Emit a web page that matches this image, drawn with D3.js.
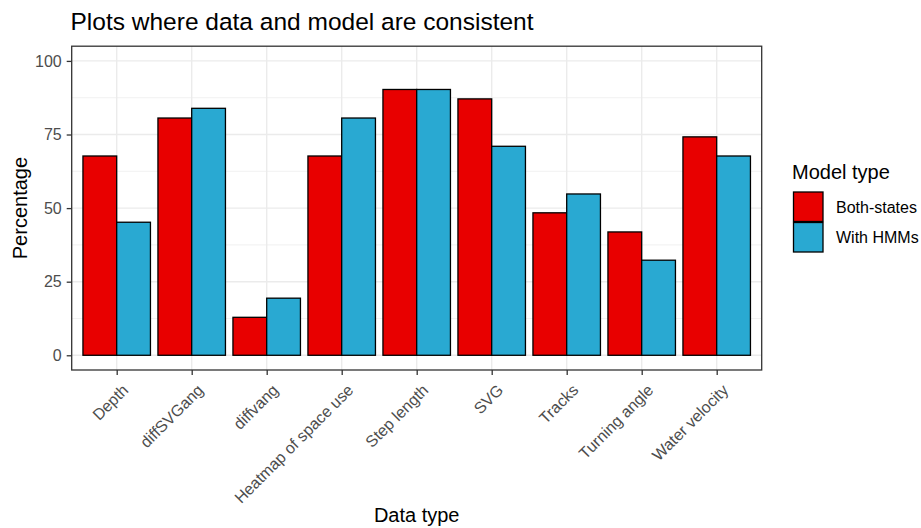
<!DOCTYPE html>
<html><head><meta charset="utf-8">
<script src="https://cdn.jsdelivr.net/npm/d3@7"></script>
<style>body{margin:0;background:#fff;} text{font-family:"Liberation Sans",Arial,sans-serif;}</style>
</head><body>
<svg id="c" width="921" height="528"></svg>
<script>
const categories = ["Depth","diffSVGang","diffvang","Heatmap of space use","Step length","SVG","Tracks","Turning angle","Water velocity"];
const seriesNames = ["Both-states","With HMMs"];
const bothStates = [67.7, 80.6, 12.9, 67.7, 90.3, 87.1, 48.4, 41.9, 74.2];
const withHMMs   = [45.2, 83.9, 19.4, 80.6, 90.3, 71.0, 54.8, 32.3, 67.7];
const yTicks = [0, 25, 50, 75, 100];
const yMinor = [12.5, 37.5, 62.5, 87.5];
const colors = ["#e80000", "#29a9d2"];

const svg = d3.select("#c");
const L = 71.7, R = 761.7, T = 46.2, B = 370;
const xp = d3.scalePoint().domain(categories).range([L + 0.6*75, R - 0.6*75]);
const y = d3.scaleLinear().domain([-5, 105]).range([B, T]);
const step = xp.step();
const barW = 0.45 * step;
const tickFont = "16px", titleFont = "20px";

const g = svg.append("g");
// grid
g.selectAll(".minor").data(yMinor).join("line")
  .attr("x1", L).attr("x2", R).attr("y1", d=>y(d)).attr("y2", d=>y(d))
  .attr("stroke", "#ebebeb").attr("stroke-width", 0.7);
g.selectAll(".major").data(yTicks).join("line")
  .attr("x1", L).attr("x2", R).attr("y1", d=>y(d)).attr("y2", d=>y(d))
  .attr("stroke", "#ebebeb").attr("stroke-width", 1.4);
g.selectAll(".vmajor").data(categories).join("line")
  .attr("x1", d=>xp(d)).attr("x2", d=>xp(d)).attr("y1", T).attr("y2", B)
  .attr("stroke", "#ebebeb").attr("stroke-width", 1.4);

// bars
const series = [bothStates, withHMMs];
series.forEach((vals, si) => {
  g.selectAll(".bar"+si).data(categories).join("rect")
    .attr("x", (d)=> xp(d) - barW + si*barW)
    .attr("width", barW)
    .attr("y", (d,i)=> y(vals[i]))
    .attr("height", (d,i)=> y(0) - y(vals[i]))
    .attr("fill", colors[si]).attr("stroke", "#000").attr("stroke-width", 1.3);
});

// panel border
g.append("rect").attr("x", L).attr("y", T).attr("width", R-L).attr("height", B-T)
  .attr("fill","none").attr("stroke","#333333").attr("stroke-width",1.3);

// y axis
const yAxis = d3.axisLeft(y).tickValues(yTicks).tickSize(5).tickPadding(5);
const ya = svg.append("g").attr("transform", `translate(${L},0)`).call(yAxis);
ya.select(".domain").remove();
ya.selectAll("line").attr("stroke","#333333").attr("stroke-width",1.3);
ya.selectAll("text").attr("fill","#4d4d4d").style("font-size",tickFont).style("font-family","Liberation Sans, Arial, sans-serif");

// x axis
const xAxis = d3.axisBottom(xp).tickSize(5).tickPadding(3);
const xa = svg.append("g").attr("transform", `translate(0,${B})`).call(xAxis);
xa.select(".domain").remove();
xa.selectAll("line").attr("stroke","#333333").attr("stroke-width",1.3);
xa.selectAll("text").attr("fill","#4d4d4d").style("font-size",tickFont)
  .style("font-family","Liberation Sans, Arial, sans-serif")
  .attr("text-anchor","end").attr("y",0).attr("dy","0.72em")
  .attr("transform","translate(4,13) rotate(-45)");

// titles
svg.append("text").attr("x", 70.5).attr("y", 30).text("Plots where data and model are consistent")
  .style("font-size","24.5px").attr("fill","#000");
svg.append("text").attr("transform", `translate(26.5,${(T+B)/2}) rotate(-90)`).attr("text-anchor","middle")
  .text("Percentage").style("font-size",titleFont).attr("fill","#000");
svg.append("text").attr("x", (L+R)/2).attr("y", 522).attr("text-anchor","middle")
  .text("Data type").style("font-size",titleFont).attr("fill","#000");

// legend
const lg = svg.append("g");
lg.append("text").attr("x", 792).attr("y", 178.5).text("Model type").style("font-size",titleFont).attr("fill","#000");
seriesNames.forEach((n, i) => {
  lg.append("rect").attr("x", 793.5).attr("y", 192 + i*30.5).attr("width", 29.5).attr("height", 29.5)
    .attr("fill", colors[i]).attr("stroke","#000").attr("stroke-width",1.3);
  lg.append("text").attr("x", 836).attr("y", 207 + i*30.5).attr("dy","0.35em").text(n)
    .style("font-size",tickFont).attr("fill","#000");
});
</script>
</body></html>
